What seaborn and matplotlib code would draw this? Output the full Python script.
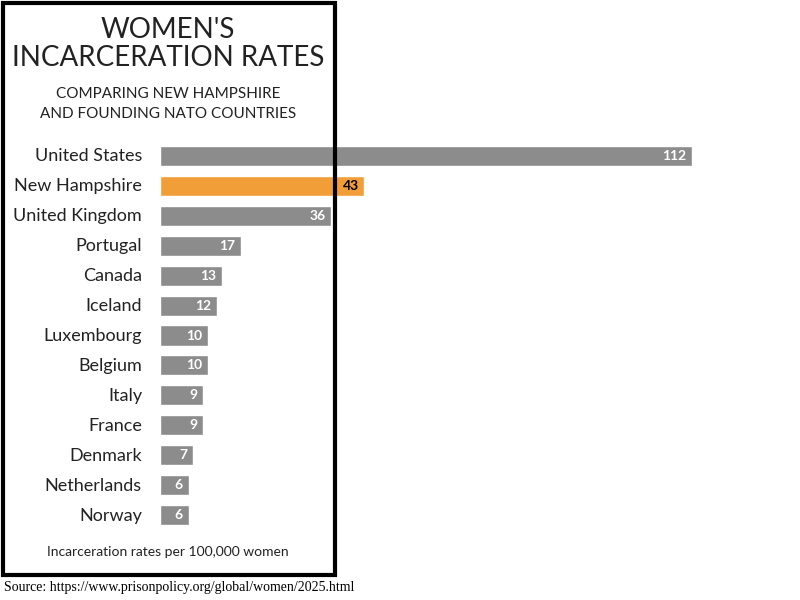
import matplotlib
matplotlib.use("Agg")
import matplotlib.pyplot as plt
import seaborn as sns
import pandas as pd
from matplotlib.patches import Rectangle

countries = ["United States","New Hampshire","United Kingdom","Portugal","Canada","Iceland",
             "Luxembourg","Belgium","Italy","France","Denmark","Netherlands","Norway"]
rates = [112,43,36,17,13,12,10,10,9,9,7,6,6]
highlight = "New Hampshire"

sns.set_theme(style="white")
plt.rcParams['font.family'] = ['Lato', 'DejaVu Sans']

df = pd.DataFrame({"country": countries, "rate": rates})
colors = ["#f29e38" if c == highlight else "#8c8c8c" for c in countries]

fig = plt.figure(figsize=(8, 6), dpi=100)
ax = fig.add_axes([0.2, 1-530/600, 0.8, 389/600])
sns.barplot(data=df, x="rate", y="country", hue="country", palette=colors, legend=False,
            ax=ax, width=0.67, saturation=1)
ax.set_xlim(0, 640/4.75)
ax.set_ylim(12.5, -0.5)
ax.set_xlabel(""); ax.set_ylabel("")
ax.set_xticks([]); ax.set_yticks([])
for s in ax.spines.values():
    s.set_visible(False)
ax.patch.set_alpha(0)

for i, (c, v) in enumerate(zip(countries, rates)):
    ax.text(v - 1.2, i, str(v), ha="right", va="center", fontsize=10, fontweight="bold",
            color="black" if c == highlight else "white")
    fig.text(142/800, 1-(156+30*i)/600, c, ha="right", va="center", fontsize=13, color="#222222")

fig.patches.append(Rectangle((3/800, 1-575/600), 332/800, 572/600, transform=fig.transFigure,
                             fill=False, edgecolor="black", linewidth=3))

fig.text(168/800, 1-44/600, "WOMEN'S\nINCARCERATION RATES", ha="center", va="center",
         fontsize=20, color="#222222", linespacing=1.1)
fig.text(168/800, 1-104/600, "COMPARING NEW HAMPSHIRE\nAND FOUNDING NATO COUNTRIES", ha="center",
         va="center", fontsize=11, color="#222222", linespacing=1.5)
fig.text(168/800, 1-552/600, "Incarceration rates per 100,000 women", ha="center", va="center",
         fontsize=10, color="#222222")
fig.text(4/800, 1-588/600, "Source: https://www.prisonpolicy.org/global/women/2025.html",
         ha="left", va="center", fontsize=10, family=["Liberation Serif"], color="black")

fig.savefig("out.png", dpi=100)
